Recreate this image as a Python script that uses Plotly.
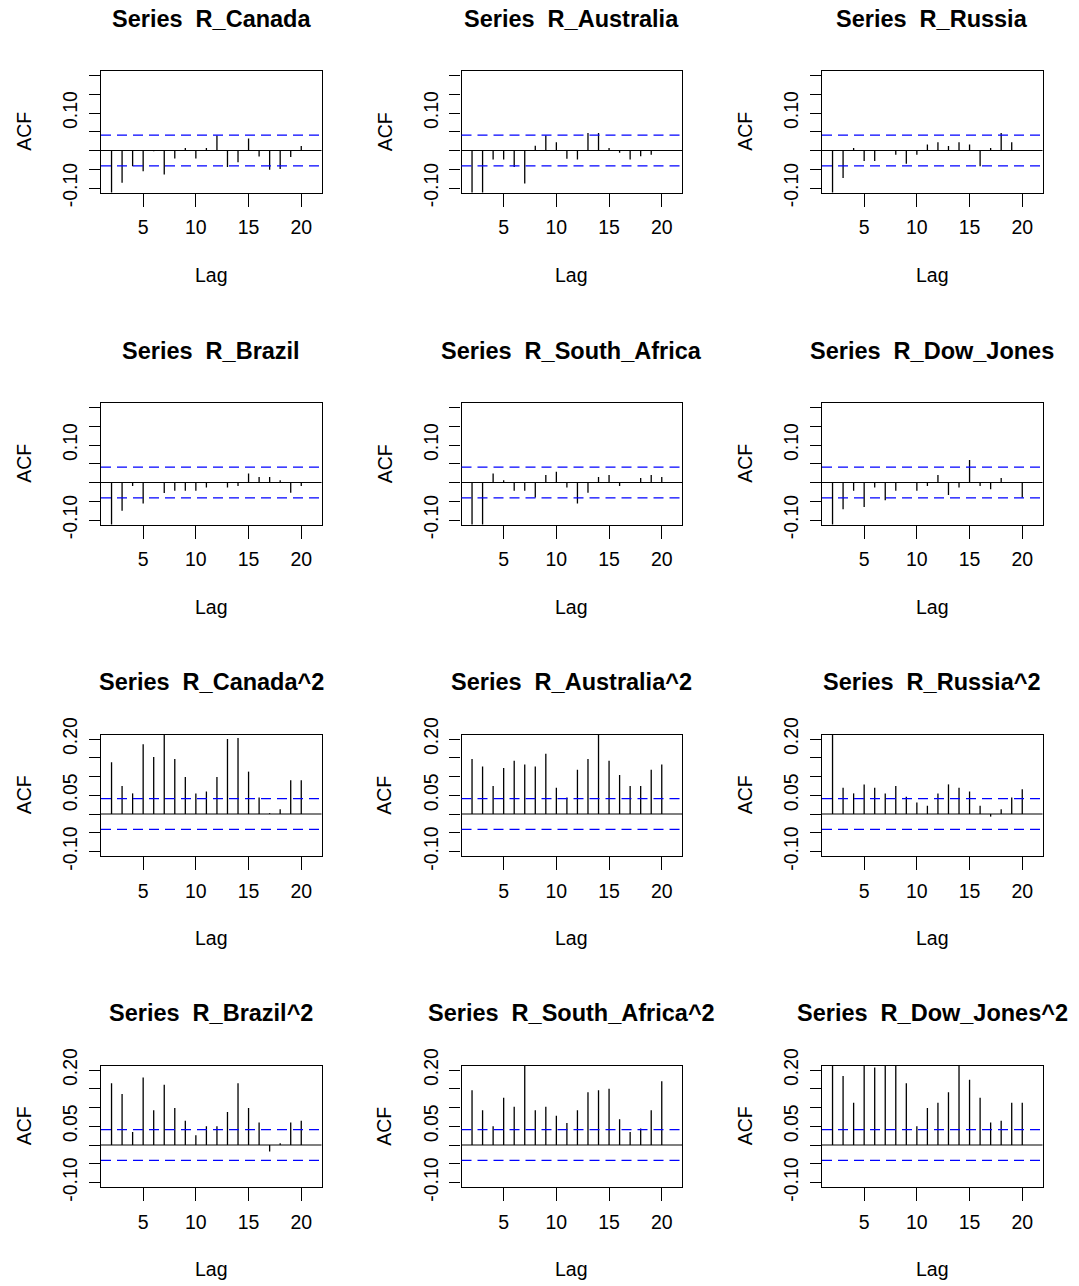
import plotly.graph_objects as go

# Lags shown on every panel
lags = list(range(2, 21))

# Sample autocorrelations of daily returns
acf_canada = [-0.13, -0.086, -0.042, -0.055, -0.002, -0.064, -0.021, 0.007, -0.021, 0.007,
              0.040, -0.044, -0.031, 0.032, -0.016, -0.051, -0.049, -0.017, 0.012]
acf_australia = [-0.13, -0.13, -0.024, -0.024, -0.044, -0.088, 0.013, 0.040, 0.022, -0.022,
                 -0.024, 0.047, 0.047, 0.007, -0.006, -0.024, -0.015, -0.011, 0.001]
acf_russia = [-0.13, -0.073, 0.007, -0.028, -0.028, 0.001, -0.011, -0.035, -0.011, 0.016,
              0.022, 0.012, 0.022, 0.016, -0.042, 0.007, 0.047, 0.022, 0.0]
acf_brazil = [-0.13, -0.075, -0.009, -0.056, 0.0, -0.028, -0.022, -0.022, -0.022, -0.013,
              0.0, -0.013, -0.009, 0.024, 0.015, 0.015, 0.006, -0.027, -0.009]
acf_south_africa = [-0.13, -0.13, 0.024, 0.006, -0.022, -0.022, -0.040, 0.020, 0.029, -0.013,
                    -0.056, -0.027, 0.015, 0.020, -0.009, 0.0, 0.012, 0.020, 0.015]
acf_dow_jones = [-0.13, -0.071, -0.022, -0.065, -0.013, -0.047, -0.022, 0.0, -0.022, -0.009,
                 0.020, -0.033, -0.013, 0.060, -0.009, -0.018, 0.012, 0.0, -0.040]

# Sample autocorrelations of squared returns
acf_canada_sq = [0.138, 0.075, 0.055, 0.186, 0.152, 0.23, 0.147, 0.099, 0.055, 0.060,
                 0.099, 0.200, 0.203, 0.113, 0.044, 0.002, 0.013, 0.090, 0.090]
acf_australia_sq = [0.147, 0.127, 0.075, 0.123, 0.142, 0.132, 0.127, 0.161, 0.070, 0.044,
                    0.118, 0.147, 0.23, 0.142, 0.104, 0.075, 0.075, 0.118, 0.132]
acf_russia_sq = [0.25, 0.070, 0.055, 0.079, 0.070, 0.055, 0.075, 0.046, 0.031, 0.022,
                 0.055, 0.079, 0.070, 0.060, 0.022, -0.007, 0.013, 0.044, 0.066]
acf_brazil_sq = [0.165, 0.136, 0.035, 0.180, 0.093, 0.161, 0.099, 0.065, 0.026, 0.050,
                 0.050, 0.088, 0.165, 0.099, 0.060, -0.017, 0.005, 0.060, 0.065]
acf_south_africa_sq = [0.146, 0.093, 0.050, 0.126, 0.102, 0.23, 0.093, 0.102, 0.078, 0.059,
                       0.093, 0.141, 0.146, 0.150, 0.069, 0.035, 0.044, 0.093, 0.170]
acf_dow_jones_sq = [0.25, 0.184, 0.113, 0.24, 0.207, 0.23, 0.24, 0.165, 0.050, 0.099,
                    0.113, 0.141, 0.23, 0.174, 0.126, 0.060, 0.065, 0.113, 0.113]

series_names = ["R_Canada", "R_Australia", "R_Russia",
                "R_Brazil", "R_South_Africa", "R_Dow_Jones",
                "R_Canada^2", "R_Australia^2", "R_Russia^2",
                "R_Brazil^2", "R_South_Africa^2", "R_Dow_Jones^2"]
series_values = [acf_canada, acf_australia, acf_russia,
                 acf_brazil, acf_south_africa, acf_dow_jones,
                 acf_canada_sq, acf_australia_sq, acf_russia_sq,
                 acf_brazil_sq, acf_south_africa_sq, acf_dow_jones_sq]

# 95% white-noise bound
conf_limit = 0.041

y_ticks = [-0.10, -0.05, 0.00, 0.05, 0.10, 0.15, 0.20]
y_labels_returns = ["-0.10", "", "", "", "0.10", "", ""]
y_labels_squared = ["-0.10", "", "", "0.05", "", "", "0.20"]
x_ticks = [5, 10, 15, 20]

W, H = 1079, 1286
box_left = [101, 461.5, 822]
box_top = [71, 403, 734.5, 1065.5]
box_w, box_h = 220.5, 121.5

FONT = "Liberation Sans, Arial, sans-serif"
tick_font = dict(family=FONT, size=19.5, color="#000000")


def px_x(v):
    return v / W


def px_y(v):
    return 1 - v / H


fig = go.Figure()
layout = dict(width=W, height=H, margin=dict(l=0, r=0, t=0, b=0, pad=0), autosize=False,
              paper_bgcolor="white", plot_bgcolor="white", showlegend=False)
shapes, annotations = [], []

for i, (name, vals) in enumerate(zip(series_names, series_values)):
    r, c = divmod(i, 3)
    n = "" if i == 0 else str(i + 1)
    xs, ys = [], []
    for lag, v in zip(lags, vals):
        xs += [lag, lag, None]
        ys += [0, v, None]
    fig.add_trace(go.Scatter(x=xs, y=ys, mode="lines", xaxis="x" + n, yaxis="y" + n,
                             line=dict(color="black", width=1.3), hoverinfo="skip"))

    x0, x1 = box_left[c], box_left[c] + box_w
    y0, y1 = box_top[r], box_top[r] + box_h
    common = dict(showgrid=False, zeroline=False, showline=True, mirror=True,
                  linecolor="black", linewidth=1.2, ticks="outside", tickwidth=1.2,
                  tickcolor="black", tickfont=tick_font, fixedrange=True,
                  automargin=False)
    layout["xaxis" + n] = dict(domain=[px_x(x0), px_x(x1)], range=[1.0, 21.92],
                               tickvals=x_ticks, ticklen=13, anchor="y" + n,
                               ticklabelstandoff=4, **common)
    layout["yaxis" + n] = dict(domain=[px_y(y1), px_y(y0)], range=[-0.112, 0.212],
                               tickvals=y_ticks,
                               ticktext=y_labels_returns if r < 2 else y_labels_squared,
                               tickangle=-90, ticklen=11, anchor="x" + n,
                               ticklabelstandoff=4, **common)

    xd = "x" + n + " domain"
    shapes.append(dict(type="line", xref=xd, yref="y" + n, x0=0, x1=1, y0=0, y1=0,
                       line=dict(color="black", width=1.2)))
    for lim in (conf_limit, -conf_limit):
        shapes.append(dict(type="line", xref=xd, yref="y" + n, x0=0, x1=1, y0=lim, y1=lim,
                           line=dict(color="#0000ff", width=1.3, dash="10px,6px")))

    cx = (x0 + x1) / 2
    annotations.append(dict(text="<b>Series\u00a0 " + name + "</b>", xref="paper", yref="paper",
                            x=px_x(cx), y=px_y(y0 - 52), xanchor="center", yanchor="middle",
                            showarrow=False, font=dict(family=FONT, size=23.5, color="black")))
    annotations.append(dict(text="Lag", xref="paper", yref="paper",
                            x=px_x(cx), y=px_y(y1 + 82), xanchor="center", yanchor="middle",
                            showarrow=False, font=tick_font))
    annotations.append(dict(text="ACF", xref="paper", yref="paper", textangle=-90,
                            x=px_x(x0 - 77), y=px_y((y0 + y1) / 2), xanchor="center",
                            yanchor="middle", showarrow=False, font=tick_font))

layout["shapes"] = shapes
layout["annotations"] = annotations
fig.update_layout(**layout)
fig.write_html("out.html")
